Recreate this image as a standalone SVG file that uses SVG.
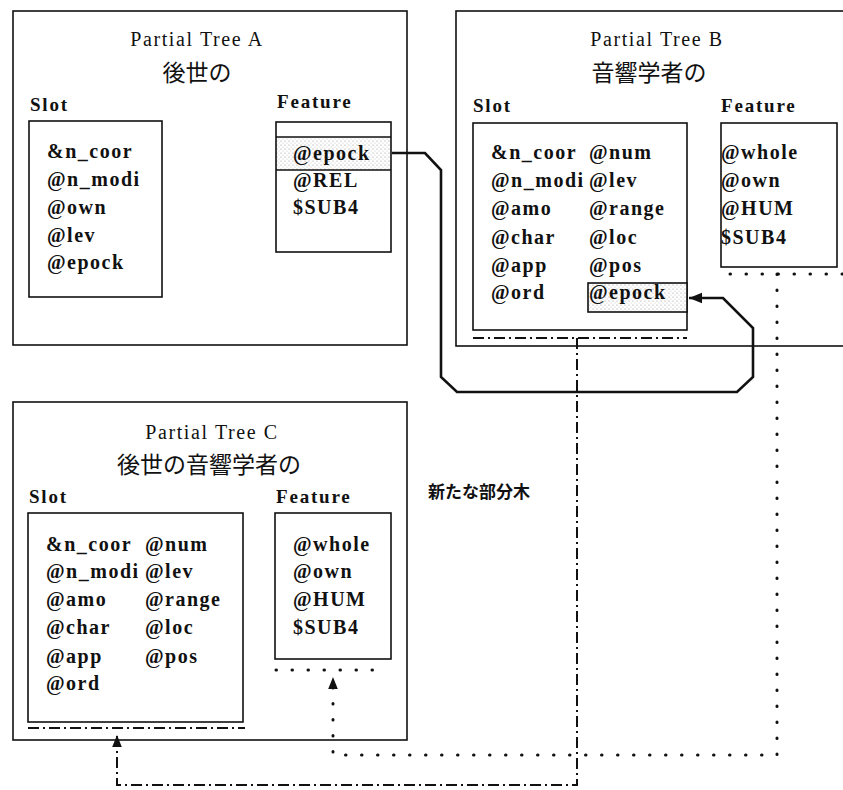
<svg xmlns="http://www.w3.org/2000/svg" width="843" height="790" viewBox="0 0 843 790">
<style>
.box{fill:none;stroke:#111;stroke-width:1.6}
.title{font-family:"Liberation Serif",serif;font-size:20px;letter-spacing:1.6px;fill:#111;text-anchor:middle}
.jp{font-family:"Liberation Serif","Noto Sans CJK JP",serif;font-size:23px;fill:#111;text-anchor:middle}
.hd{font-family:"Liberation Serif",serif;font-size:19px;font-weight:bold;letter-spacing:1.8px;fill:#111}
.it{font-family:"Liberation Serif",serif;font-size:20px;font-weight:bold;letter-spacing:1.5px;fill:#111}
.note{font-family:"Noto Sans CJK JP",sans-serif;font-size:17px;font-weight:bold;fill:#111}
.thick{fill:none;stroke:#111;stroke-width:2.6;stroke-linejoin:miter}
.dashdot{fill:none;stroke:#111;stroke-width:2;stroke-dasharray:11 4 2 4}
.dotted{fill:none;stroke:#111;stroke-width:3;stroke-dasharray:0.5 15.5;stroke-linecap:round}
</style>
<defs>
<pattern id="stip" width="4" height="4" patternUnits="userSpaceOnUse">
<rect width="4" height="4" fill="#fff"/>
<circle cx="1" cy="1" r="0.6" fill="#999"/>
<circle cx="3" cy="3" r="0.5" fill="#bbb"/>
</pattern>
<marker id="arr" viewBox="0 0 10 10" refX="10" refY="5" markerWidth="5" markerHeight="5" markerUnits="strokeWidth" orient="auto">
<path d="M0,1 L10,5 L0,9 Z" fill="#111"/>
</marker>
<marker id="arrS" viewBox="0 0 10 10" refX="10" refY="5" markerWidth="12" markerHeight="12" markerUnits="userSpaceOnUse" orient="auto">
<path d="M0,1 L10,5 L0,9 Z" fill="#111"/>
</marker>
</defs>
<rect width="843" height="790" fill="#fff"/>

<g id="treeA">
<rect class="box" x="13" y="11" width="394" height="334"/>
<text class="title" x="197" y="46">Partial Tree A</text>
<text class="jp" x="197" y="81">後世の</text>
<text class="hd" x="30" y="111">Slot</text>
<rect class="box" x="29" y="121" width="133" height="176"/>
<text class="it" x="47" y="158">&amp;n_coor</text>
<text class="it" x="47" y="186">@n_modi</text>
<text class="it" x="47" y="214">@own</text>
<text class="it" x="47" y="242">@lev</text>
<text class="it" x="47" y="269">@epock</text>
<text class="hd" x="277" y="108">Feature</text>
<rect x="276" y="137" width="115" height="33" fill="url(#stip)"/>
<rect class="box" x="276" y="122" width="115" height="130"/>
<line class="box" x1="276" y1="137" x2="391" y2="137"/>
<line class="box" x1="276" y1="170" x2="391" y2="170"/>
<text class="it" x="293" y="160">@epock</text>
<text class="it" x="293" y="187">@REL</text>
<text class="it" x="293" y="214">$SUB4</text>
</g>

<g id="treeB">
<rect class="box" x="456" y="11" width="420" height="335"/>
<text class="title" x="657" y="46">Partial Tree B</text>
<text class="jp" x="649" y="81">音響学者の</text>
<text class="hd" x="473" y="112">Slot</text>
<rect class="box" x="473" y="123" width="214" height="207"/>
<rect x="588" y="283" width="99" height="29" fill="url(#stip)"/>
<rect class="box" x="588" y="283" width="99" height="29"/>
<line class="dashdot" x1="473" y1="338" x2="687" y2="338"/>
<text class="it" x="491" y="159">&amp;n_coor</text>
<text class="it" x="491" y="187">@n_modi</text>
<text class="it" x="491" y="215">@amo</text>
<text class="it" x="491" y="244">@char</text>
<text class="it" x="491" y="272">@app</text>
<text class="it" x="491" y="299">@ord</text>
<text class="it" x="589" y="159">@num</text>
<text class="it" x="589" y="187">@lev</text>
<text class="it" x="589" y="215">@range</text>
<text class="it" x="589" y="244">@loc</text>
<text class="it" x="589" y="272">@pos</text>
<text class="it" x="589" y="299">@epock</text>
<text class="hd" x="721" y="112">Feature</text>
<rect class="box" x="721" y="123" width="116" height="144"/>
<text class="it" x="721" y="159">@whole</text>
<text class="it" x="721" y="187">@own</text>
<text class="it" x="721" y="215">@HUM</text>
<text class="it" x="721" y="244">$SUB4</text>
<line class="dotted" x1="730" y1="274" x2="843" y2="274"/>
</g>

<g id="treeC">
<rect class="box" x="13" y="402" width="394" height="338"/>
<text class="title" x="212" y="439">Partial Tree C</text>
<text class="jp" x="209" y="473">後世の音響学者の</text>
<text class="hd" x="29" y="503">Slot</text>
<rect class="box" x="28" y="513" width="215" height="209"/>
<line class="dashdot" x1="28" y1="728" x2="245" y2="728"/>
<text class="it" x="46" y="551">&amp;n_coor</text>
<text class="it" x="46" y="578">@n_modi</text>
<text class="it" x="46" y="606">@amo</text>
<text class="it" x="46" y="634">@char</text>
<text class="it" x="46" y="663">@app</text>
<text class="it" x="46" y="690">@ord</text>
<text class="it" x="145" y="551">@num</text>
<text class="it" x="145" y="578">@lev</text>
<text class="it" x="145" y="606">@range</text>
<text class="it" x="145" y="634">@loc</text>
<text class="it" x="145" y="663">@pos</text>
<text class="hd" x="276" y="503">Feature</text>
<rect class="box" x="275" y="513" width="116" height="146"/>
<text class="it" x="293" y="551">@whole</text>
<text class="it" x="293" y="578">@own</text>
<text class="it" x="293" y="606">@HUM</text>
<text class="it" x="293" y="634">$SUB4</text>
<line class="dotted" x1="276" y1="670" x2="385" y2="670"/>
</g>

<g id="newTreeLabel">
<text class="note" x="428" y="498">新たな部分木</text>
</g>

<g id="connectors">
<path class="thick" d="M392,153 H425 L441,170 V377 L457,392 H737 L753,377 V328 L723,298 H689" marker-end="url(#arr)"/>
<path class="dashdot" d="M577,338 V785 H117 V735" marker-end="url(#arrS)"/>
<path class="dotted" d="M777,274 V755 H333 V677" marker-end="url(#arrS)"/>
</g>
</svg>
